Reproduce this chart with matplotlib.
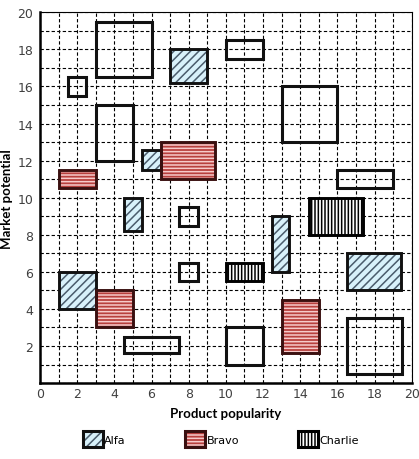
import matplotlib.pyplot as plt
from matplotlib.patches import Rectangle, Patch
from matplotlib.legend_handler import HandlerTuple

plt.rcParams['font.family'] = ['DejaVu Sans']
plt.rcParams['hatch.linewidth'] = 1.1

# 矩形数据: 左下角 x, y, 宽, 高
alfa_x = [7, 5.5, 4.5, 1, 12.5, 16.5]
alfa_y = [16.2, 11.5, 8.2, 4, 6, 5]
alfa_w = [2, 1, 1, 2, 0.9, 2.9]
alfa_h = [1.8, 1.1, 1.8, 2, 3, 2]

bravo_x = [6.5, 1, 3, 13]
bravo_y = [11, 10.5, 3, 1.6]
bravo_w = [2.9, 2, 2, 2]
bravo_h = [2, 1, 2, 2.9]

charlie_x = [14.5, 10]
charlie_y = [8, 5.5]
charlie_w = [2.9, 2]
charlie_h = [2, 1]

# 无填充的矩形
open_x = [3, 1.5, 3, 7.5, 7.5, 4.5, 10, 13, 16, 10, 16.5]
open_y = [16.5, 15.5, 12, 8.5, 5.5, 1.6, 17.5, 13, 10.5, 1, 0.5]
open_w = [3, 1, 2, 1, 1, 3, 2, 3, 3, 2, 3]
open_h = [3, 1, 3, 1, 1, 0.9, 1, 3, 1, 2, 3]

styles = {
    'Alfa': dict(fill='#d8f1fa', hatch='////', hcolor='#4a5c6c', edge='#111111'),
    'Bravo': dict(fill='#b8403e', hatch='-----', hcolor='#f6caca', edge='#3a1010'),
    'Charlie': dict(fill='white', hatch='|||||', hcolor='black', edge='black'),
}

fig = plt.figure(figsize=(4.19, 4.6), dpi=100)
ax = fig.add_axes([0.0955, 0.165, 0.887, 0.806])


def draw_group(xs, ys, ws, hs, st):
    for x, y, w, h in zip(xs, ys, ws, hs):
        ax.add_patch(Rectangle((x, y), w, h, facecolor=st['fill'], edgecolor=st['hcolor'],
                               hatch=st['hatch'], linewidth=0, zorder=3))
        ax.add_patch(Rectangle((x, y), w, h, facecolor='none', edgecolor=st['edge'],
                               linewidth=2.1, zorder=4))


for x, y, w, h in zip(open_x, open_y, open_w, open_h):
    ax.add_patch(Rectangle((x, y), w, h, facecolor='none', edgecolor='#111111',
                           linewidth=2.2, zorder=4))

draw_group(alfa_x, alfa_y, alfa_w, alfa_h, styles['Alfa'])
draw_group(bravo_x, bravo_y, bravo_w, bravo_h, styles['Bravo'])
draw_group(charlie_x, charlie_y, charlie_w, charlie_h, styles['Charlie'])

ax.set_xlim(0, 20)
ax.set_ylim(0, 20)
ax.set_xticks(range(0, 21, 2))
ax.set_yticks(range(2, 21, 2))
ax.set_xticks(range(0, 21), minor=True)
ax.set_yticks(range(0, 21), minor=True)
ax.grid(which='both', color='black', linestyle=(0, (3, 2)), linewidth=0.8, zorder=1)
ax.set_axisbelow(True)
ax.tick_params(which='both', length=0, labelsize=9, labelcolor='#404040')
ax.tick_params(axis='x', pad=3)
ax.tick_params(axis='y', pad=5)

for s in ['left', 'bottom']:
    ax.spines[s].set_linewidth(1.8)
for s in ['top', 'right']:
    ax.spines[s].set_linewidth(0.8)

ax.set_xlabel('Product popularity', fontsize=9.5, fontweight='bold', family='Lato', labelpad=5)
ax.set_ylabel('Market potential', fontsize=9.5, fontweight='bold', family='Lato', labelpad=3)

handles = []
for name in ['Alfa', 'Bravo', 'Charlie']:
    st = styles[name]
    handles.append((Patch(facecolor=st['fill'], edgecolor=st['hcolor'], hatch=st['hatch'], linewidth=0),
                    Patch(facecolor='none', edgecolor=st['edge'], linewidth=2.2)))

fig.legend(handles, ['Alfa', 'Bravo', 'Charlie'], handler_map={tuple: HandlerTuple(ndivide=1, pad=0)},
           loc='center', bbox_to_anchor=(0.527, 0.043), ncol=3, frameon=False, fontsize=8,
           handlelength=1.8, handleheight=1.9, handletextpad=0.15, columnspacing=5.3)

fig.savefig('out.png', dpi=100)
